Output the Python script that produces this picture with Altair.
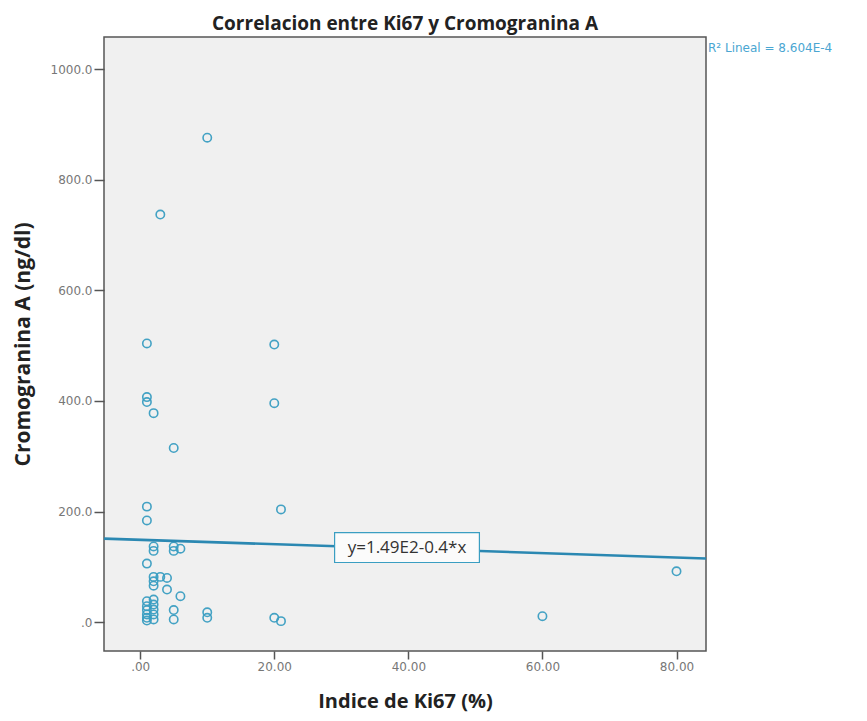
import altair as alt
import pandas as pd

# ---- data ----
ki67 = [10, 3, 1, 20, 1, 1, 2, 20, 5, 1, 1, 21, 2, 2, 5, 5, 6, 1,
        2, 3, 4, 2, 2, 4, 6,
        1, 1, 1, 1, 1, 1,
        2, 2, 2, 2, 2,
        5, 5, 10, 10, 20, 21, 60, 80]
cga = [876, 737, 504, 502, 407, 398, 378, 396, 315, 209, 184, 204, 137, 129, 137, 129, 133, 106,
       82, 82, 80, 74, 66, 59, 47,
       38, 29, 22, 14, 8, 3,
       41, 32, 23, 14, 5,
       22, 5, 18, 8, 8, 2, 11, 92]

intercept = 149.0
slope = -0.4
x_domain = [-5.4, 84.4]
y_domain = [-52, 1058]
x_ticks = [0, 20, 40, 60, 80]
y_ticks = [0, 200, 400, 600, 800, 1000]

eq_text = ["y=1.49E2-0.4*x"]
eq_x = [39.8]
eq_y = [135]
eq_box_x = [29.0]
eq_box_x2 = [50.6]
eq_box_y = [108]
eq_box_y2 = [162]
r2_text = ["R² Lineal = 8.604E-4"]

FONT = "Open Sans"
TICKFONT = "DejaVu Sans"
PT = "#3a9ec2"
LINE = "#2b88b2"

pts = pd.DataFrame({"x": ki67, "y": cga})
line_df = pd.DataFrame({"x": x_domain,
                        "y": [intercept + slope * v for v in x_domain]})
eq_df = pd.DataFrame({"t": eq_text, "x": eq_x, "y": eq_y,
                      "x0": eq_box_x, "x1": eq_box_x2, "y0": eq_box_y, "y1": eq_box_y2})
r2_df = pd.DataFrame({"t": r2_text})

xs = alt.Scale(domain=x_domain, nice=False, zero=False)
ys = alt.Scale(domain=y_domain, nice=False, zero=False)

xaxis = alt.Axis(values=x_ticks, title="Indice de Ki67 (%)",
                 labelExpr="datum.value == 0 ? '.00' : format(datum.value, '.2f')",
                 grid=False, domain=False, tickSize=8, tickColor="#555", tickWidth=1.5,
                 labelColor="#777", labelFont=TICKFONT, labelFontSize=12, labelPadding=2,
                 titleFont=FONT, titleFontSize=20, titleFontWeight="bold", titleColor="#222",
                 titleY=56, titleBaseline="alphabetic")
yaxis = alt.Axis(values=y_ticks, title="Cromogranina A (ng/dl)",
                 labelExpr="datum.value == 0 ? '.0' : format(datum.value, '.1f')",
                 grid=False, domain=False, tickSize=10, tickColor="#555", tickWidth=1.5,
                 labelColor="#777", labelFont=TICKFONT, labelFontSize=12, labelPadding=2,
                 titleFont=FONT, titleFontSize=21, titleFontWeight="bold", titleColor="#222",
                 titlePadding=17)

points = alt.Chart(pts).mark_point(shape="circle", filled=False, size=70,
                                   strokeWidth=1.6, color=PT, opacity=0.95).encode(
    x=alt.X("x:Q", scale=xs, axis=xaxis),
    y=alt.Y("y:Q", scale=ys, axis=yaxis),
)

reg = alt.Chart(line_df).mark_line(color=LINE, strokeWidth=2.6).encode(
    x=alt.X("x:Q", scale=xs), y=alt.Y("y:Q", scale=ys))

box = alt.Chart(eq_df).mark_rect(fill="#fbfbfb", stroke=PT, strokeWidth=1.2).encode(
    x=alt.X("x0:Q", scale=xs), x2="x1:Q",
    y=alt.Y("y0:Q", scale=ys), y2="y1:Q")

eq = alt.Chart(eq_df).mark_text(font=FONT, fontSize=17, color="#333").encode(
    x=alt.X("x:Q", scale=xs), y=alt.Y("y:Q", scale=ys), text="t:N")

r2 = alt.Chart(r2_df).mark_text(font=TICKFONT, fontSize=12, color="#4aa6d2",
                                align="left", baseline="middle").encode(
    x=alt.value(604), y=alt.value(11), text="t:N")

chart = alt.layer(points, reg, box, eq, r2).properties(
    width=602, height=614,
    title=alt.TitleParams("Correlacion entre Ki67 y Cromogranina A", font=FONT,
                          fontSize=19, fontWeight="bold", color="#222", offset=3),
    autosize=alt.AutoSizeParams(type="none"),
    padding={"left": 96, "top": 29, "right": 146, "bottom": 62},
    background="white",
).configure(
    font=FONT
).configure_view(
    fill="#f0f0f0", stroke="#555", strokeWidth=1.5
)

chart.save("out.html", embed_options={"renderer": "svg", "actions": False})
